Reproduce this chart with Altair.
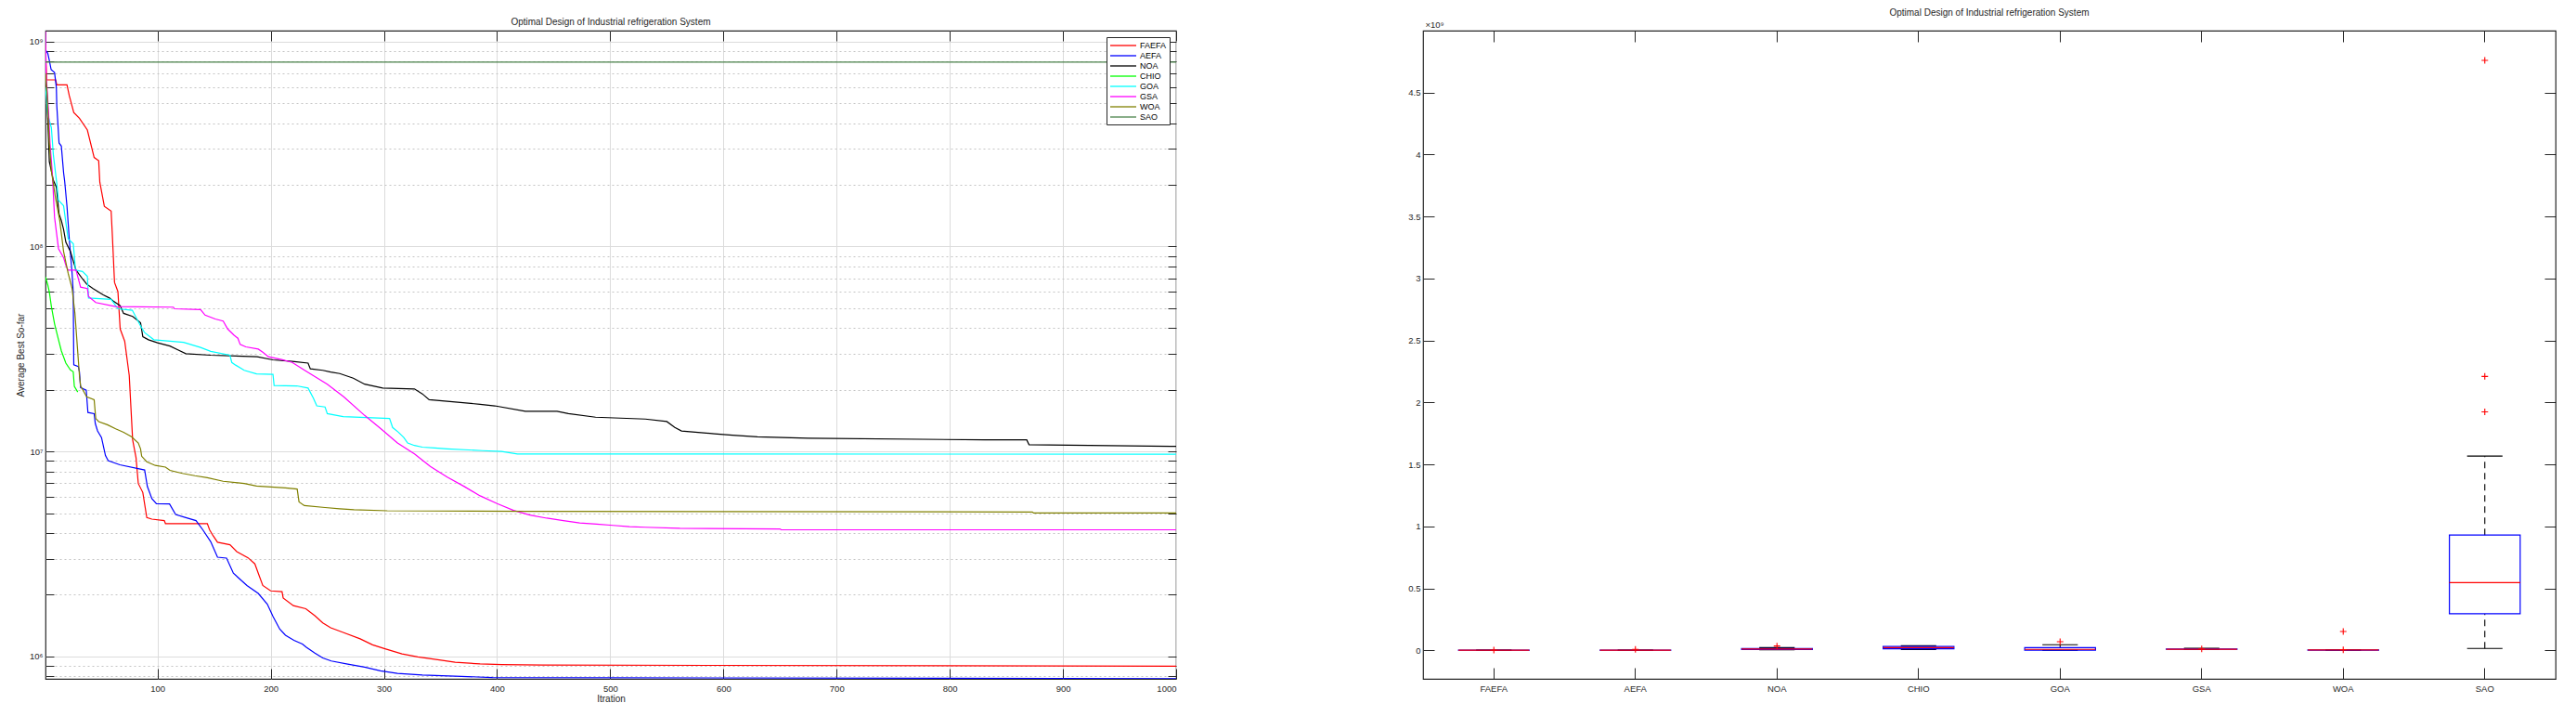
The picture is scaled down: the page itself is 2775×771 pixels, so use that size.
import altair as alt
import pandas as pd

TITLE = "Optimal Design of Industrial refrigeration System"
SERIES = ["FAEFA", "AEFA", "NOA", "CHIO", "GOA", "GSA", "WOA", "SAO"]
COLORS = ["#FF0000", "#0000FF", "#000000", "#00FF00", "#00FFFF", "#FF00FF", "#808000", "#4A824A"]

# ---- convergence curves (iteration, average best so far) ----
FAEFA_IT = [1, 2, 10, 11, 20, 22, 26, 31, 38, 44, 48, 49, 53, 59, 60, 62, 65, 67, 71, 75, 77, 78, 81, 83, 87,
            90.5, 95, 106, 107, 144, 146, 149, 153, 164, 170, 180, 186, 189, 193, 200, 210, 211, 220, 231,
            239, 246, 253, 264, 279, 290, 301, 316, 330, 349, 363, 385, 404, 440, 1000]
FAEFA_V = [9.6e8, 6.5e8, 6.5e8, 6.15e8, 6.15e8, 5.45e8, 4.50e8, 4.22e8, 3.70e8, 2.72e8, 2.62e8, 2.06e8, 1.57e8,
           1.49e8, 1.16e8, 6.68e7, 6.03e7, 3.96e7, 3.45e7, 2.35e7, 1.45e7, 1.14e7, 9.33e6, 6.98e6, 6.31e6,
           4.76e6, 4.68e6, 4.60e6, 4.45e6, 4.45e6, 4.15e6, 3.89e6, 3.61e6, 3.51e6, 3.25e6, 3.03e6, 2.83e6,
           2.55e6, 2.22e6, 2.09e6, 2.07e6, 1.93e6, 1.77e6, 1.71e6, 1.58e6, 1.46e6, 1.38e6, 1.31e6, 1.22e6,
           1.14e6, 1.09e6, 1.03e6, 9.95e5, 9.62e5, 9.38e5, 9.20e5, 9.14e5, 9.08e5, 8.97e5]

AEFA_IT = [1, 3, 4.5, 6, 9, 10.6, 11, 13, 15, 17, 18, 20, 22, 24.5, 25.5, 26, 30, 31, 32, 37, 38.5, 44, 45, 47,
           50.5, 54, 56.4, 66.7, 88.6, 91, 95, 99, 110.6, 116, 125, 134, 140, 147, 153, 161, 167, 179, 189,
           197, 202, 208, 213, 220.5, 228, 231.5, 239, 246, 253.5, 268, 283, 297, 312, 334, 363, 396, 1000]
AEFA_V = [9.1e8, 8.77e8, 8.04e8, 7.29e8, 7.06e8, 5.97e8, 4.85e8, 3.20e8, 3.09e8, 2.29e8, 2.07e8, 1.57e8,
          1.09e8, 7.41e7, 6.03e7, 2.65e7, 2.60e7, 2.45e7, 2.05e7, 1.99e7, 1.55e7, 1.53e7, 1.37e7, 1.26e7,
          1.17e7, 9.55e6, 9.02e6, 8.61e6, 8.13e6, 6.76e6, 5.89e6, 5.57e6, 5.55e6, 4.93e6, 4.76e6, 4.60e6,
          4.15e6, 3.63e6, 3.05e6, 3.02e6, 2.55e6, 2.22e6, 2.03e6, 1.80e6, 1.57e6, 1.36e6, 1.27e6, 1.20e6,
          1.15e6, 1.11e6, 1.04e6, 9.84e5, 9.51e5, 9.18e5, 8.87e5, 8.51e5, 8.28e5, 8.13e5, 8.02e5, 7.89e5, 7.80e5]

NOA_IT = [1, 3, 4.4, 8, 10.6, 13, 15, 17, 19, 23, 28, 34, 37.4, 43, 52, 57.5, 61, 67, 70, 78, 85, 87, 92, 100,
          111, 118, 125, 147, 188, 202, 219, 233, 235, 246, 253, 261, 273, 283, 299, 327, 334, 340, 385, 398,
          425, 453, 463, 487, 531, 550, 557, 563, 592, 608, 630, 675, 831, 868, 870, 995, 1000]
NOA_V = [7.1e8, 4.17e8, 2.59e8, 2.10e8, 1.95e8, 1.44e8, 1.34e8, 1.21e8, 1.05e8, 9.46e7, 7.67e7, 6.92e7, 6.56e7,
         6.24e7, 5.81e7, 5.61e7, 5.42e7, 5.14e7, 4.72e7, 4.56e7, 4.25e7, 3.63e7, 3.51e7, 3.39e7, 3.27e7,
         3.13e7, 3.00e7, 2.95e7, 2.90e7, 2.80e7, 2.75e7, 2.70e7, 2.53e7, 2.49e7, 2.44e7, 2.40e7, 2.28e7,
         2.13e7, 2.04e7, 2.02e7, 1.91e7, 1.79e7, 1.70e7, 1.67e7, 1.57e7, 1.57e7, 1.53e7, 1.47e7, 1.44e7,
         1.40e7, 1.31e7, 1.26e7, 1.22e7, 1.20e7, 1.18e7, 1.16e7, 1.14e7, 1.14e7, 1.08e7, 1.06e7, 1.06e7]

CHIO_IT = [1, 3, 4.4, 6.2, 9, 12, 15, 19, 23, 25.5, 26.5, 29.5]
CHIO_V = [7.10e7, 6.5e7, 6.0e7, 5.1e7, 4.2e7, 3.6e7, 3.1e7, 2.7e7, 2.5e7, 2.45e7, 2.08e7, 1.95e7]

GOA_IT = [1, 3, 6.2, 8, 11, 12.5, 17, 21, 25.6, 27.5, 33.7, 38, 39, 59, 65, 77.7, 85, 88.6, 96.7, 123, 138, 147,
          164, 165.6, 169, 176.6, 187.5, 202, 203, 223, 233, 237.7, 240.7, 248, 250, 264, 305, 307.7, 313,
          317.6, 321, 327, 334, 345, 356, 387, 404, 418, 1000]
GOA_V = [6.0e8, 4.4e8, 3.80e8, 2.78e8, 2.03e8, 1.68e8, 1.58e8, 1.09e8, 1.03e8, 7.67e7, 7.55e7, 7.16e7, 5.61e7,
         5.52e7, 4.97e7, 4.89e7, 4.10e7, 3.80e7, 3.51e7, 3.41e7, 3.22e7, 3.08e7, 2.95e7, 2.72e7, 2.64e7,
         2.49e7, 2.39e7, 2.38e7, 2.10e7, 2.09e7, 2.04e7, 1.82e7, 1.67e7, 1.65e7, 1.53e7, 1.48e7, 1.45e7,
         1.31e7, 1.24e7, 1.17e7, 1.10e7, 1.07e7, 1.05e7, 1.04e7, 1.03e7, 1.01e7, 1.00e7, 9.73e6, 9.70e6]

GSA_IT = [1, 1.5, 3.7, 5, 7, 9, 12.5, 17, 19, 21, 28, 32, 38, 39, 45.4, 63, 114, 115, 138, 142, 151, 158, 162,
          167.4, 171, 173, 178, 189, 193, 198, 209.5, 219, 230, 239, 250, 264.5, 283, 297.4, 312, 327, 341,
          356, 371, 385, 400, 414.6, 429, 444, 458.6, 473, 488, 502.6, 517, 531, 561.5, 650, 651, 1000]
GSA_V = [1.12e9, 7.08e8, 4.53e8, 3.20e8, 2.30e8, 1.39e8, 9.77e7, 8.83e7, 8.09e7, 7.67e7, 7.67e7, 6.34e7, 6.24e7,
         5.71e7, 5.33e7, 5.09e7, 5.06e7, 4.97e7, 4.92e7, 4.63e7, 4.43e7, 4.33e7, 3.96e7, 3.70e7, 3.57e7,
         3.33e7, 3.24e7, 3.16e7, 3.05e7, 2.90e7, 2.81e7, 2.72e7, 2.49e7, 2.32e7, 2.13e7, 1.85e7, 1.50e7,
         1.29e7, 1.10e7, 9.73e6, 8.45e6, 7.50e6, 6.75e6, 6.08e6, 5.57e6, 5.16e6, 4.90e6, 4.73e6, 4.60e6,
         4.48e6, 4.42e6, 4.36e6, 4.30e6, 4.27e6, 4.22e6, 4.19e6, 4.15e6, 4.15e6]

WOA_IT = [1, 2.6, 4.4, 6.2, 10, 13.6, 17, 21, 24.5, 27, 29, 31, 32, 37.4, 44, 45.4, 48, 55.7, 63, 70, 77, 83, 85,
          86, 90.5, 98, 107, 111, 122, 133, 144, 158, 176.6, 187.5, 213, 223.4, 225, 229.7, 248, 261, 273.6,
          303, 429, 873, 874, 1000]
WOA_V = [7.0e8, 5.37e8, 3.20e8, 2.34e8, 1.71e8, 1.34e8, 9.46e7, 7.41e7, 6.24e7, 4.72e7, 3.33e7, 2.35e7, 2.09e7,
         1.85e7, 1.79e7, 1.45e7, 1.40e7, 1.35e7, 1.29e7, 1.24e7, 1.18e7, 1.10e7, 1.03e7, 9.48e6, 8.91e6,
         8.55e6, 8.39e6, 8.09e6, 7.82e6, 7.62e6, 7.45e6, 7.16e6, 6.98e6, 6.79e6, 6.64e6, 6.56e6, 5.68e6,
         5.45e6, 5.33e6, 5.26e6, 5.20e6, 5.14e6, 5.11e6, 5.07e6, 5.01e6, 5.01e6]

SAO_IT = [1, 1000]
SAO_V = [7.93e8, 7.93e8]

ITERS = [FAEFA_IT, AEFA_IT, NOA_IT, CHIO_IT, GOA_IT, GSA_IT, WOA_IT, SAO_IT]
VALS = [FAEFA_V, AEFA_V, NOA_V, CHIO_V, GOA_V, GSA_V, WOA_V, SAO_V]

X_TICKS = [100, 200, 300, 400, 500, 600, 700, 800, 900, 1000]
Y_TICKS = [8e5, 9e5, 1e6, 2e6, 3e6, 4e6, 5e6, 6e6, 7e6, 8e6, 9e6,
           1e7, 2e7, 3e7, 4e7, 5e7, 6e7, 7e7, 8e7, 9e7,
           1e8, 2e8, 3e8, 4e8, 5e8, 6e8, 7e8, 8e8, 9e8, 1e9]
Y_DOMAIN = [7.78e5, 1.13e9]

# ---- box plot of final results (x 10^9) ----
BOX_LO = [0.0004, 0.0004, 0.004, 0.007, 0.0, 0.006, 0.001, 0.015]
BOX_Q1 = [0.0006, 0.0006, 0.006, 0.013, 0.001, 0.008, 0.002, 0.295]
BOX_MED = [0.0009, 0.0008, 0.011, 0.022, 0.008, 0.009, 0.003, 0.547]
BOX_Q3 = [0.0012, 0.0011, 0.015, 0.032, 0.022, 0.011, 0.004, 0.930]
BOX_HI = [0.0018, 0.0016, 0.022, 0.037, 0.045, 0.016, 0.006, 1.567]
OUT_ALG = ["FAEFA", "AEFA", "NOA", "GOA", "GSA", "WOA", "WOA", "SAO", "SAO", "SAO"]
OUT_VAL = [0.002, 0.008, 0.035, 0.070, 0.012, 0.152, 0.005, 1.924, 2.210, 4.760]
BOX_TICKS = [0, 0.5, 1, 1.5, 2, 2.5, 3, 3.5, 4, 4.5]
BOX_DOMAIN = [-0.23, 5.0]

FONT = "Liberation Sans"
INK = "#262626"

rows = []
for name, its, vals in zip(SERIES, ITERS, VALS):
    assert len(its) == len(vals), name
    for it, v in zip(its, vals):
        rows.append({"alg": name, "iter": it, "val": v})
conv = pd.DataFrame(rows)

x_scale = alt.Scale(domain=[1, 1000], nice=False, zero=False)
y_scale = alt.Scale(type="log", domain=Y_DOMAIN, nice=False)

major_test = "datum.value==1e6||datum.value==1e7||datum.value==1e8||datum.value==1e9"
y_label = ("datum.value==1e6?'10⁶':datum.value==1e7?'10⁷':"
           "datum.value==1e8?'10⁸':datum.value==1e9?'10⁹':''")

lines = alt.Chart(conv).mark_line(strokeWidth=1.2, clip=True).encode(
    x=alt.X("iter:Q", scale=x_scale,
            axis=alt.Axis(values=X_TICKS, orient="bottom", format="d", title="Itration", grid=True,
                          gridColor="#dcdcdc", gridWidth=1, tickSize=11, offset=-11, domain=False,
                          tickColor=INK, labelPadding=5, titlePadding=2, labelFontSize=9.5,
                          titleFontSize=10, titleFontWeight="normal", labelColor=INK, titleColor=INK)),
    y=alt.Y("val:Q", scale=y_scale,
            axis=alt.Axis(values=Y_TICKS, orient="left", labelExpr=y_label, title="Average Best So-far",
                          grid=True,
                          gridColor={"condition": {"test": major_test, "value": "#dcdcdc"}, "value": "#c4c4c4"},
                          gridDash={"condition": {"test": major_test, "value": []}, "value": [2, 3]},
                          tickSize=9, offset=-9, domain=False, tickColor=INK, labelPadding=3,
                          titlePadding=4, labelFontSize=9.5, titleFontSize=10, titleFontWeight="normal",
                          labelColor=INK, titleColor=INK)),
    color=alt.Color("alg:N", scale=alt.Scale(domain=SERIES, range=COLORS),
                    legend=alt.Legend(title=None, orient="top-right", offset=7, strokeColor=INK,
                                      fillColor="white", padding=3, rowPadding=0,
                                      symbolType="M-1,0H4.6", symbolSize=100, symbolStrokeWidth=1.3,
                                      symbolFillColor="transparent", labelFontSize=9,
                                      labelOffset=21, labelColor="#000000")),
)

mirror_left = alt.Chart(conv).mark_point(opacity=0).encode(
    x=alt.X("iter:Q", scale=x_scale,
            axis=alt.Axis(values=X_TICKS, orient="top", labels=False, title=None, grid=False,
                          tickSize=11, offset=-11, domain=False, tickColor=INK)),
    y=alt.Y("val:Q", scale=y_scale,
            axis=alt.Axis(values=Y_TICKS, orient="right", labels=False, title=None, grid=False,
                          tickSize=9, offset=-9, domain=False, tickColor=INK)),
)

left = alt.layer(lines, mirror_left).resolve_axis(x="independent", y="independent").properties(
    width=1218, height=698,
    title=alt.Title(TITLE, fontSize=10, fontWeight="normal", color=INK, offset=2, frame="group"))

# ---- right panel ----
box_df = pd.DataFrame({"alg": SERIES, "lo": BOX_LO, "q1": BOX_Q1, "med": BOX_MED, "q3": BOX_Q3, "hi": BOX_HI})
out_df = pd.DataFrame({"alg": OUT_ALG, "val": OUT_VAL})

bx_scale = alt.Scale(domain=SERIES, paddingInner=0, paddingOuter=0)
by_scale = alt.Scale(domain=BOX_DOMAIN, nice=False, zero=False)

xb_axis = alt.Axis(orient="bottom", title=None, labelAngle=0, tickSize=12, offset=-12, domain=False,
                   tickColor=INK, labelPadding=5, labelFontSize=9.5, labelColor=INK, grid=False)
yb_axis = alt.Axis(orient="left", values=BOX_TICKS, format="~g", title="×10⁹", titleAngle=0,
                   titleAlign="left", titleBaseline="bottom", titleX=-10, titleY=-2,
                   titleFontSize=9.5, titleFontWeight="normal", titleColor=INK,
                   tickSize=12, offset=-12, domain=False, tickColor=INK, labelPadding=3,
                   labelFontSize=9.5, labelColor=INK, grid=False)

bbase = alt.Chart(box_df)
whisk_up = bbase.mark_rule(color="#000000", strokeDash=[7, 5], strokeWidth=1.1).encode(
    x=alt.X("alg:N", scale=bx_scale, sort=SERIES, axis=xb_axis),
    y=alt.Y("q3:Q", scale=by_scale, axis=yb_axis), y2="hi:Q")
whisk_dn = bbase.mark_rule(color="#000000", strokeDash=[7, 5], strokeWidth=1.1).encode(
    x=alt.X("alg:N", scale=bx_scale, sort=SERIES, axis=None),
    y=alt.Y("lo:Q", scale=by_scale, axis=None), y2="q1:Q")
cap_up = bbase.mark_bar(width={"band": 0.25}, fill=None, stroke="#000000", strokeWidth=1.1).encode(
    x=alt.X("alg:N", scale=bx_scale, sort=SERIES, axis=None),
    y=alt.Y("hi:Q", scale=by_scale, axis=None), y2="hi:Q")
cap_dn = bbase.mark_bar(width={"band": 0.25}, fill=None, stroke="#000000", strokeWidth=1.1).encode(
    x=alt.X("alg:N", scale=bx_scale, sort=SERIES, axis=None),
    y=alt.Y("lo:Q", scale=by_scale, axis=None), y2="lo:Q")
box = bbase.mark_bar(width={"band": 0.5}, fill=None, stroke="#0000FF", strokeWidth=1.2).encode(
    x=alt.X("alg:N", scale=bx_scale, sort=SERIES, axis=None),
    y=alt.Y("q1:Q", scale=by_scale, axis=None), y2="q3:Q")
med = bbase.mark_bar(width={"band": 0.5}, fill=None, stroke="#FF0000", strokeWidth=1.2).encode(
    x=alt.X("alg:N", scale=bx_scale, sort=SERIES, axis=None),
    y=alt.Y("med:Q", scale=by_scale, axis=None), y2="med:Q")
outl = alt.Chart(out_df).mark_point(shape="M-1,0L1,0M0,-1L0,1", size=49, filled=False, stroke="#FF0000",
                                    strokeWidth=1.1, opacity=1).encode(
    x=alt.X("alg:N", scale=bx_scale, sort=SERIES, axis=None),
    y=alt.Y("val:Q", scale=by_scale, axis=None))
mirror_right = bbase.mark_point(opacity=0).encode(
    x=alt.X("alg:N", scale=bx_scale, sort=SERIES,
            axis=alt.Axis(orient="top", labels=False, title=None, tickSize=12, offset=-12, domain=False,
                          tickColor=INK, grid=False)),
    y=alt.Y("med:Q", scale=by_scale,
            axis=alt.Axis(orient="right", values=BOX_TICKS, labels=False, title=None, tickSize=12,
                          offset=-12, domain=False, tickColor=INK, grid=False)))

right = alt.layer(whisk_up, whisk_dn, cap_up, cap_dn, box, med, outl, mirror_right).resolve_axis(
    x="independent", y="independent").properties(
    width=1220, height=698,
    title=alt.Title(TITLE, fontSize=10, fontWeight="normal", color=INK, offset=2, frame="group"))

chart = alt.hconcat(left, right, spacing=266, bounds="flush").resolve_scale(
    color="independent").resolve_legend(color="independent").properties(
    padding={"left": 8, "top": 0, "right": 0, "bottom": 0}
).configure(font=FONT).configure_view(stroke=INK, strokeWidth=1.2)

chart.save("out.html", embed_options={"renderer": "svg", "actions": False})
